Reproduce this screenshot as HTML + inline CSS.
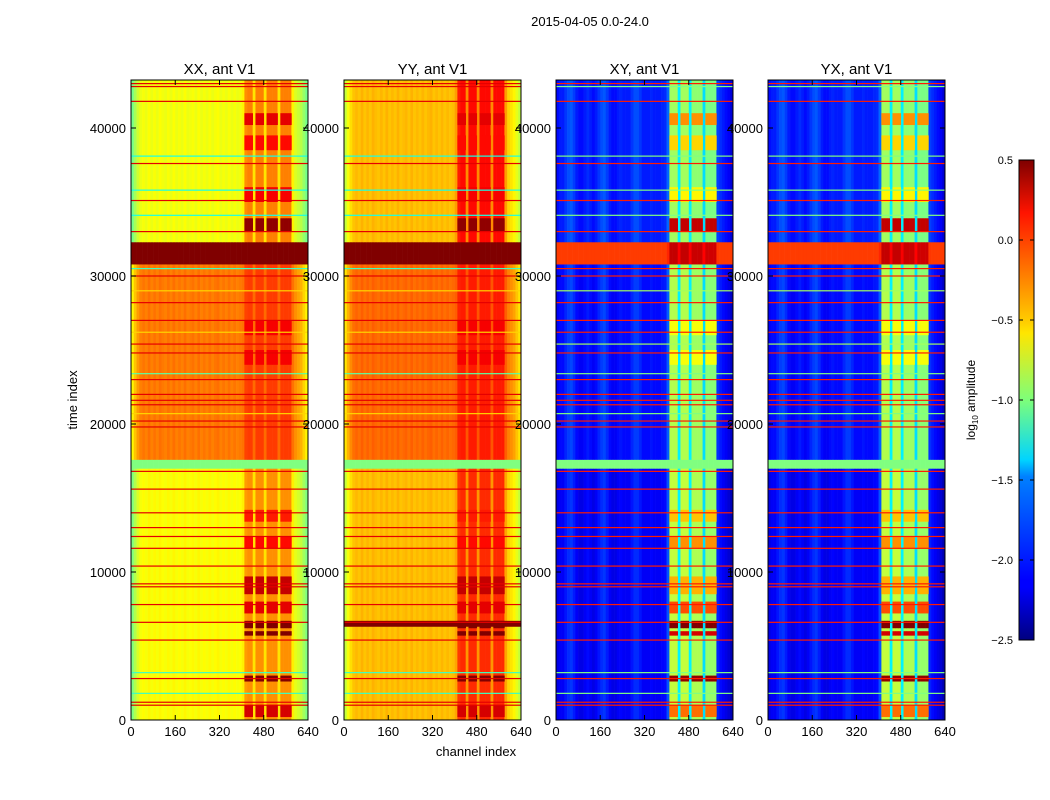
<!DOCTYPE html>
<html><head><meta charset="utf-8">
<style>
body{margin:0;background:#fff;}
svg{display:block;font-family:"Liberation Sans","DejaVu Sans",sans-serif;}
</style></head>
<body>
<svg id="fig" width="1050" height="800" xmlns="http://www.w3.org/2000/svg">
<defs>
<linearGradient id="jet" x1="0" y1="1" x2="0" y2="0">
<stop offset="0" stop-color="#00007f"/><stop offset="0.11" stop-color="#0000ff"/><stop offset="0.125" stop-color="#0000ff"/>
<stop offset="0.34" stop-color="#0080ff"/><stop offset="0.375" stop-color="#00d4ff"/><stop offset="0.5" stop-color="#7dff7a"/>
<stop offset="0.64" stop-color="#ffe600"/><stop offset="0.66" stop-color="#ffd000"/><stop offset="0.89" stop-color="#ff1400"/><stop offset="1" stop-color="#7f0000"/>
</linearGradient>
</defs>
<text x="590" y="26" text-anchor="middle" font-size="13">2015-04-05 0.0-24.0</text>
<g id="panels"></g>
<text x="476" y="756" text-anchor="middle" font-size="13">channel index</text>
<text transform="translate(77,400) rotate(-90)" text-anchor="middle" font-size="13">time index</text>
<g id="cbar"></g>
</svg>
<script>
// ---- data ----
const panelTitles = ["XX, ant V1","YY, ant V1","XY, ant V1","YX, ant V1"];
const panelKinds = ["auto","auto","cross","cross"];
const xTicks = [0,160,320,480,640];
const yTicks = [0,10000,20000,30000,40000];
const cbTicks = [0.5,0.0,-0.5,-1.0,-1.5,-2.0,-2.5];
const cbLabels = ["0.5","0.0","\u22120.5","\u22121.0","\u22121.5","\u22122.0","\u22122.5"];
// time bands [start,end]
const bandStart = [0,17000,17600,30800,32300];
const bandEnd   = [17000,17600,30800,32300,43250];
// per-panel left-region and stripe-region values (log10 amplitude) per band
const leftVals = [
  [-0.65,-1.0,-0.25,0.5,-0.68],
  [-0.45,-1.0,-0.2,0.5,-0.45],
  [-2.15,-1.0,-2.1,-0.05,-2.05],
  [-2.15,-1.0,-2.1,-0.05,-2.05]];
const stripeVals = [
  [-0.3,-1.0,-0.05,0.5,-0.25],
  [0.0,-1.0,0.05,0.5,0.1],
  [-0.8,-1.0,-0.85,0.3,-0.9],
  [-0.8,-1.0,-0.85,0.3,-0.9]];
// stripe strength per 10-channel column from channel 400 to 630
const stripeAuto  = [0.2,0.9,1,1,0.3,1,1,1,0.3,1,1,1,1,0.3,1,1,1,1,0.2,0,0,0,0,0];
const stripeCross = [0.2,1,1,1,0.55,1,1,1,0.55,0.95,0.95,0.95,0.95,0.5,0.9,0.9,0.9,0.9,0.05,0,0,0,0,0];
// column offsets (64 cols of 10 channels)
const colOffAuto = [-0.35,-0.2,-0.08,0,0.03,0,0.05,0,0.04,0,0.05,0.02,0,0.04,0,0.05,0,0.03,0,0.05,0,0.02,0.04,0,0.05,0,0.03,0,0.04,0,0.03,0.05,0,0.03,0,0.04,0,0.03,0,0.02,0,0,0,0,0,0,0,0,0,0,0,0,0,0,0,0,0,0,0,-0.05,-0.1,-0.15,-0.25,-0.35];
const colOffCross = [-0.05,0,0,0.08,0.15,0.18,0.1,0,-0.05,-0.05,0,0.05,0,-0.05,0,0.08,0.15,0.18,0.1,0,-0.05,-0.05,0,0.03,0,0,0,0.08,0.15,0.15,0.08,0,0,0,0.03,0,0,0,0.03,0.05,0,0,0,0,0,0,0,0,0,0,0,0,0,0,0,0,0,0,0.05,0.05,0,-0.05,-0.1,-0.2];
// stripe-region events [tStart,tEnd,value]
const evStart = [200,2600,5700,6200,7200,8500,11600,13400,24000,26000,33000,35000,38500,40200];
const evEnd   = [1000,3000,6000,6700,8000,9700,12400,14200,25000,27000,33900,36000,39500,41000];
const evAuto  = [0.25,0.5,0.5,0.5,0.2,0.3,0.1,0.05,0.15,0.15,0.45,0.15,0.1,0.2];
const evCross = [-0.2,0.45,0.25,0.5,-0.1,-0.4,-0.3,-0.45,-0.65,-0.65,0.3,-0.6,-0.5,-0.3];
// horizontal flag lines
const lineTimes = [43000,42800,41800,38100,37600,35800,35100,34100,33000,30500,30000,29000,28200,27000,26200,25400,24800,23400,23000,22000,21600,21300,20700,20200,19800,16800,15600,14000,13000,12400,11600,10400,9200,9000,7800,6600,5400,3200,2800,1800,1200,1000];
const lineAuto  = [0.2,0.2,0.2,-1.3,0.2,-1.3,0.2,-1.3,0.2,-1.2,0.2,-0.5,0.2,0.2,-0.5,0.2,0.2,-1.1,0.2,0.2,0.2,0.2,-0.5,0.2,0.2,0.2,0.2,0.2,0.2,0.2,0.2,0.2,0.2,0.2,0.2,0.2,0.2,-1.2,0.2,-1.2,0.2,0.2];
const lineCross = [0.05,-1.0,0.05,-1.0,0.05,-1.0,0.05,-1.0,0.05,0.05,0.05,-0.9,0.05,0.05,0.05,-0.9,0.05,-1.0,0.05,0.05,0.05,0.05,-1.0,0.05,0.05,0.05,0.05,0.05,0.05,0.05,0.05,0.05,0.05,0.05,0.05,0.05,0.05,-1.0,0.05,-1.0,0.05,0.05];
// extra wide band in YY near 6500
const yyBandStart = 6300, yyBandEnd = 6700, yyBandVal = 0.5;

// ---- scales ----
const panelX = [131,344,556,768], PW = 177, PT = 80, PB = 720, TMAX = 43243;
const xs = (i,ch)=>panelX[i]+ch/640*PW;
const ys = t=>PB - t/TMAX*(PB-PT);
const VMIN=-2.5,VMAX=0.5;
function jet(v){
  let x=(v-VMIN)/(VMAX-VMIN); x=Math.max(0,Math.min(1,x));
  const r=Math.max(0,Math.min(1,1.5-Math.abs(4*x-3)));
  const g=Math.max(0,Math.min(1,1.5-Math.abs(4*x-2)));
  const b=Math.max(0,Math.min(1,1.5-Math.abs(4*x-1)));
  return `rgb(${Math.round(r*255)},${Math.round(g*255)},${Math.round(b*255)})`;
}
const NS="http://www.w3.org/2000/svg";
function mk(tag,attrs,parent){const e=document.createElementNS(NS,tag);for(const k in attrs)e.setAttribute(k,attrs[k]);parent.appendChild(e);return e;}

const panels=document.getElementById('panels');
for(let p=0;p<4;p++){
  const g=mk('g',{},panels);
  
  
  const cross=panelKinds[p]==="cross";
  const strip=cross?stripeCross:stripeAuto, off=cross?colOffCross:colOffAuto;
  const ev=cross?evCross:evAuto, lv=cross?lineCross:lineAuto;
  for(let b=0;b<bandStart.length;b++){
    for(let c=0;c<64;c++){
      const s=c>=40?strip[c-40]:0;
      let v=leftVals[p][b]+s*(stripeVals[p][b]-leftVals[p][b]);
      if(b!==1&&b!==3) v+=off[c]*(s>0.5?0.3:1);
      const r=mk('rect',{x:xs(p,c*10),y:ys(bandEnd[b]),width:PW/64+0.3,height:ys(bandStart[b])-ys(bandEnd[b])+0.3,fill:jet(v)},g);
      
      
    }
  }
  for(let e=0;e<evStart.length;e++){
    for(let c=40;c<64;c++){
      const s=strip[c-40]; if(s<0.85) continue;
      const r=mk('rect',{x:xs(p,c*10),y:ys(evEnd[e]),width:PW/64+0.3,height:ys(evStart[e])-ys(evEnd[e]),fill:jet(ev[e])},g);
      
      
    }
  }
  if(p===1){
    const r=mk('rect',{x:xs(p,0),y:ys(yyBandEnd),width:PW,height:ys(yyBandStart)-ys(yyBandEnd),fill:jet(yyBandVal)},g);
    
    
  }
  for(let l=0;l<lineTimes.length;l++){
    const r=mk('rect',{x:xs(p,0),y:ys(lineTimes[l])-0.6,width:PW,height:1.2,fill:jet(lv[l])},g);
    
    
  }
  const fr=mk('rect',{x:panelX[p],y:PT,width:PW,height:PB-PT,fill:'none',stroke:'#000','stroke-width':1},g);
  
  
  const tt=mk('text',{x:panelX[p]+PW/2,y:74,'text-anchor':'middle','font-size':15},g);
  tt.textContent=panelTitles[p];
  
  
  xTicks.forEach((t,i)=>{
    const x=xs(p,t);
    mk('line',{x1:x,x2:x,y1:PB,y2:PB-5,stroke:'#000'},g);
    mk('line',{x1:x,x2:x,y1:PT,y2:PT+5,stroke:'#000'},g);
    const tx=mk('text',{x:x,y:PB+16,'text-anchor':'middle','font-size':13},g);
    tx.textContent=t;
    
    
  });
  yTicks.forEach(t=>{
    const y=ys(t);
    mk('line',{x1:panelX[p],x2:panelX[p]+5,y1:y,y2:y,stroke:'#000'},g);
    mk('line',{x1:panelX[p]+PW,x2:panelX[p]+PW-5,y1:y,y2:y,stroke:'#000'},g);
    const ty=mk('text',{x:panelX[p]-5,y:y+5,'text-anchor':'end','font-size':13},g);
    ty.textContent=t;
    
    
  });
}
// colorbar
const cb=document.getElementById('cbar');
const CBX=1019,CBW=15,CBT=160,CBB=640;
const cbs=v=>CBB-(v-VMIN)/(VMAX-VMIN)*(CBB-CBT);
const cr=mk('rect',{x:CBX,y:CBT,width:CBW,height:CBB-CBT,fill:'url(#jet)',stroke:'#000','stroke-width':1},cb);


cbTicks.forEach((v,i)=>{
  const y=cbs(v);
  mk('line',{x1:CBX,x2:CBX+4,y1:y,y2:y,stroke:'#000'},cb);
  mk('line',{x1:CBX+CBW,x2:CBX+CBW-4,y1:y,y2:y,stroke:'#000'},cb);
  const t=mk('text',{x:CBX-6,y:y+4,'text-anchor':'end','font-size':11},cb);
  t.textContent=cbLabels[i];
  
  
});
const cl=mk('text',{transform:'translate(975,400) rotate(-90)','text-anchor':'middle','font-size':12},cb);
cl.innerHTML='log<tspan font-size="8" dy="3">10</tspan><tspan dy="-3"> amplitude</tspan>';


</script>
</body></html>
